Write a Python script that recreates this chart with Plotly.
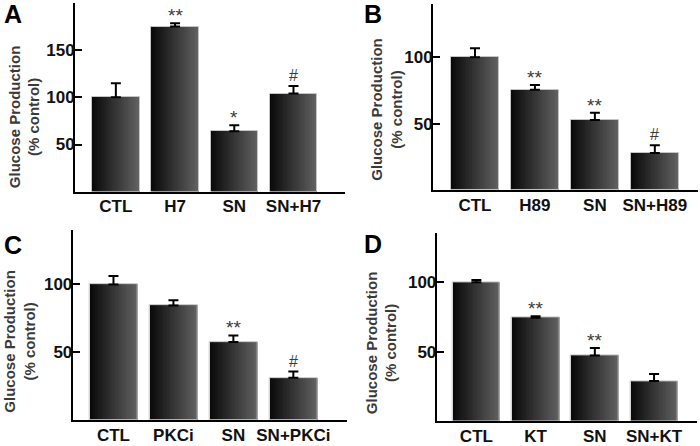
import plotly.graph_objects as go

# ---------------- data ----------------
cats_a = ["CTL", "H7", "SN", "SN+H7"]
vals_a = [100, 175, 64, 104]
errs_a = [15, 3.5, 6.5, 8]
sig_a = ["", "**", "*", "#"]

cats_b = ["CTL", "H89", "SN", "SN+H89"]
vals_b = [100, 75.5, 52.7, 28]
errs_b = [6.7, 3.5, 5.5, 5.8]
sig_b = ["", "**", "**", "#"]

cats_c = ["CTL", "PKCi", "SN", "SN+PKCi"]
vals_c = [100, 84.4, 57.5, 31.2]
errs_c = [6.3, 3.9, 4.9, 4.6]
sig_c = ["", "", "**", "#"]

cats_d = ["CTL", "KT", "SN", "SN+KT"]
vals_d = [100, 74.4, 47.3, 29.1]
errs_d = [1.5, 1.2, 5.5, 4.9]
sig_d = ["", "**", "**", ""]

ytick_a = [50, 100, 150]
ytick_b = [50, 100]
ytick_c = [50, 100]
ytick_d = [50, 100]

panel_letters = ["A", "B", "C", "D"]
y_title = "Glucose Production<br>(% control)"

# ---------------- layout helpers ----------------
W, H = 700, 446
FONT = "Liberation Sans, Arial, sans-serif"


def dom_x(l, r):
    return [l / W, r / W]


def dom_y(t, b):
    return [(H - b) / H, (H - t) / H]


panels = [
    dict(cats=cats_a, vals=vals_a, errs=errs_a, sig=sig_a, yt=ytick_a,
         dx=dom_x(75, 345), dy=dom_y(3, 193), xr=[-0.69, 3.87], yr=[0, 200],
         title_xy=(24, 118), letter_xy=(2, 14)),
    dict(cats=cats_b, vals=vals_b, errs=errs_b, sig=sig_b, yt=ytick_b,
         dx=dom_x(433, 698), dy=dom_y(4, 191.5), xr=[-0.70, 3.72], yr=[0, 140],
         title_xy=(386.5, 110), letter_xy=(362, 14)),
    dict(cats=cats_c, vals=vals_c, errs=errs_c, sig=sig_c, yt=ytick_c,
         dx=dom_x(72.7, 346.7), dy=dom_y(231.7, 423), xr=[-0.68, 3.89], yr=[0, 140],
         title_xy=(20, 344), letter_xy=(2, 247)),
    dict(cats=cats_d, vals=vals_d, errs=errs_d, sig=sig_d, yt=ytick_d,
         dx=dom_x(436.7, 696.7), dy=dom_y(235, 424.3), xr=[-0.67, 3.72], yr=[0, 135],
         title_xy=(381.5, 345), letter_xy=(362, 246)),
]

BW = 0.8
N = 28
g0, g1 = 10, 100  # gradient grey levels left -> right

fig = go.Figure()
annotations = []
layout_axes = {}

for i, p in enumerate(panels):
    sfx = "" if i == 0 else str(i + 1)
    xa, ya = "x" + sfx, "y" + sfx
    # gradient strips
    for k in range(N):
        f = k / N
        g = int(round(g0 + (g1 - g0) * f))
        fig.add_trace(go.Bar(
            x=p["cats"], y=p["vals"], width=BW * (1 - f), offset=-BW / 2 + BW * f,
            marker=dict(color=f"rgb({g},{g},{g})", line=dict(width=0)),
            xaxis=xa, yaxis=ya, showlegend=False, hoverinfo="skip"))
    # outline + error bars
    fig.add_trace(go.Bar(
        x=p["cats"], y=p["vals"], width=BW, offset=-BW / 2,
        marker=dict(color="rgba(0,0,0,0)", line=dict(color="#c4c4c4", width=1)),
        error_y=dict(type="data", symmetric=False, array=p["errs"],
                     arrayminus=[0] * len(p["errs"]), color="black",
                     thickness=2, width=5),
        xaxis=xa, yaxis=ya, showlegend=False, hoverinfo="skip"))

    layout_axes["xaxis" + sfx] = dict(
        domain=p["dx"], anchor=ya, range=p["xr"], type="category",
        categoryorder="array", categoryarray=p["cats"],
        showline=True, linecolor="black", linewidth=2, ticks="",
        showgrid=False, zeroline=False, ticklabelstandoff=-2,
        tickfont=dict(family=FONT, size=17, color="#111", weight="bold"))
    layout_axes["yaxis" + sfx] = dict(
        domain=p["dy"], anchor=xa, range=p["yr"], tickvals=p["yt"],
        showline=True, linecolor="black", linewidth=2,
        ticks="inside", ticklen=7, tickwidth=2, tickcolor="black",
        showgrid=False, zeroline=False, ticklabelstandoff=-5,
        tickfont=dict(family=FONT, size=17, color="#111", weight="bold"))

    # significance marks
    for c, v, e, s in zip(p["cats"], p["vals"], p["errs"], p["sig"]):
        if s:
            annotations.append(dict(
                x=c, y=v + e, xref=xa, yref=ya, text=s, showarrow=False,
                yanchor="bottom", yshift=(-5 if "*" in s else 0),
                font=dict(family=FONT, size=(19 if "*" in s else 16),
                          color="#3a3a3a")))

    # y title
    tx, ty = p["title_xy"]
    annotations.append(dict(
        x=tx / W, y=(H - ty) / H, xref="paper", yref="paper", text=y_title,
        textangle=-90, showarrow=False, xanchor="center", yanchor="middle",
        font=dict(family=FONT, size=15, color="#3a3a3a", weight="bold")))

    # panel letter
    lx, ly = p["letter_xy"]
    annotations.append(dict(
        x=lx / W, y=(H - ly) / H, xref="paper", yref="paper",
        text=panel_letters[i], showarrow=False, xanchor="left", yanchor="middle",
        font=dict(family=FONT, size=25, color="black", weight="bold")))

fig.update_layout(
    width=W, height=H, margin=dict(l=0, r=0, t=0, b=0),
    paper_bgcolor="white", plot_bgcolor="white",
    barmode="overlay", bargap=0, annotations=annotations,
    **layout_axes)

fig.write_html("out.html",
               config={"displayModeBar": False},
               post_script="document.body.style.margin='0';"
                           "document.body.style.overflow='hidden';")
